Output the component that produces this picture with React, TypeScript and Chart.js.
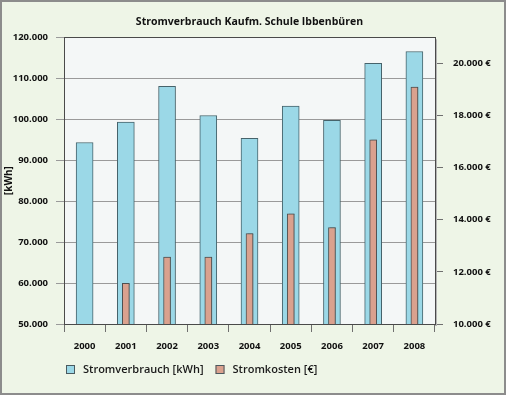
import React, { useEffect, useRef } from 'react';
import { Chart, registerables } from 'chart.js';

Chart.register(...registerables);

const years = ['2000', '2001', '2002', '2003', '2004', '2005', '2006', '2007', '2008'];
const consumptionKWh = [94300, 99300, 108000, 100900, 95300, 103200, 99700, 113600, 116500];
const costsEUR: (number | null)[] = [null, 11560, 12570, 12570, 13470, 14230, 13700, 17060, 19090];
const costTicks = [10000, 12000, 14000, 16000, 18000, 20000];

const titleText = 'Stromverbrauch Kaufm. Schule Ibbenbüren';
const consumptionLabel = 'Stromverbrauch [kWh]';
const costLabel = 'Stromkosten [€]';
const yAxisTitle = '[kWh]';

const FONT = '"Open Sans", "Noto Sans", sans-serif';
const BLUE = '#9bd8e7';
const ORANGE = '#daa18e';
const BAR_BORDER = '#46636b';

const fmt = (v: number) => String(Math.round(v)).replace(/\B(?=(\d{3})+(?!\d))/g, '.');

const bgPlugin = {
  id: 'bgPlugin',
  beforeDraw(chart: any) {
    const { ctx, width, height, chartArea } = chart;
    ctx.save();
    ctx.fillStyle = '#eef5e7';
    ctx.fillRect(0, 0, width, height);
    ctx.strokeStyle = '#8c8c8c';
    ctx.lineWidth = 2;
    ctx.strokeRect(1, 1, width - 2, height - 2);
    ctx.fillStyle = '#f4f7f7';
    ctx.fillRect(chartArea.left, chartArea.top, chartArea.right - chartArea.left, chartArea.bottom - chartArea.top);
    ctx.restore();
  },
  beforeDatasetsDraw(chart: any) {
    const { ctx, chartArea } = chart;
    ctx.save();
    ctx.strokeStyle = '#b4b4b4';
    ctx.lineWidth = 2;
    ctx.beginPath();
    ctx.moveTo(chartArea.right + 1, chartArea.top + 2);
    ctx.lineTo(chartArea.right + 1, chartArea.bottom + 2);
    ctx.stroke();
    ctx.strokeStyle = '#4a4a4a';
    ctx.lineWidth = 1;
    ctx.strokeRect(Math.round(chartArea.left) + 0.5, Math.round(chartArea.top) + 0.5,
      Math.round(chartArea.right - chartArea.left), Math.round(chartArea.bottom - chartArea.top));
    ctx.restore();
  },
  beforeDatasetDraw(chart: any, args: any) {
    const ctx = chart.ctx;
    ctx.save();
    if (args.index === 1) {
      ctx.shadowColor = 'rgba(90,90,90,0.55)';
      ctx.shadowOffsetX = 2;
      ctx.shadowOffsetY = 0;
      ctx.shadowBlur = 0;
    }
  },
  afterDatasetDraw(chart: any) {
    chart.ctx.restore();
  },
  afterDraw(chart: any) {
    const { ctx, chartArea } = chart;
    ctx.save();
    ctx.font = `600 11px ${FONT}`;
    ctx.textBaseline = 'middle';
    let x = chartArea.left + 2;
    const y = 369.5;
    chart.data.datasets.forEach((ds: any) => {
      ctx.fillStyle = ds.backgroundColor;
      ctx.fillRect(x, y - 4.5, 9, 9);
      ctx.strokeStyle = '#4a5a60';
      ctx.lineWidth = 1;
      ctx.strokeRect(x + 0.5, y - 4.5 + 0.5, 8, 8);
      ctx.fillStyle = '#1a1a1a';
      ctx.fillText(ds.label, x + 17, y);
      x += 17 + ctx.measureText(ds.label).width + 12;
    });
    ctx.restore();
  },
};

export default function App() {
  const ref = useRef<HTMLCanvasElement | null>(null);
  useEffect(() => {
    document.body.style.margin = '0';
    if (!ref.current) return;
    const chart = new Chart(ref.current, {
      type: 'bar',
      data: {
        labels: years,
        datasets: [
          {
            label: consumptionLabel,
            data: consumptionKWh,
            yAxisID: 'y',
            backgroundColor: BLUE,
            borderColor: BAR_BORDER,
            borderWidth: 1,
            barThickness: 17,
            grouped: false,
            order: 1,
          },
          {
            label: costLabel,
            data: costsEUR,
            yAxisID: 'y1',
            backgroundColor: ORANGE,
            borderColor: '#4e5050',
            borderWidth: 1,
            barThickness: 7,
            grouped: false,
            order: 0,
          },
        ],
      } as any,
      options: {
        animation: false,
        responsive: false,
        devicePixelRatio: 1,
        layout: { padding: 0 },
        plugins: {
          legend: { display: false },
          tooltip: { enabled: false },
          title: {
            display: true,
            text: titleText,
            fullSize: false,
            color: '#111',
            font: { family: FONT, size: 10.5, weight: 'bold' },
            padding: { top: 16, bottom: 8.6 },
          },
        },
        scales: {
          x: {
            grid: { display: true, drawOnChartArea: false, drawTicks: true, tickLength: 8, color: '#6f6f6f', offset: true },
            border: { display: false },
            ticks: { color: '#111', font: { family: FONT, size: 9.5, weight: 'bold' }, padding: 9 },
            afterFit: (s: any) => { s.height = 71; },
          },
          y: {
            position: 'left',
            min: 50000,
            max: 120000,
            grid: { color: '#9a9a9a', tickLength: 8, drawTicks: true },
            border: { display: false },
            ticks: {
              stepSize: 10000,
              padding: 8,
              color: '#111',
              font: { family: FONT, size: 9.5, weight: 'bold' },
              callback: (v: any) => fmt(Number(v)),
            },
            title: {
              display: true,
              text: yAxisTitle,
              color: '#111',
              font: { family: FONT, size: 10, weight: 'bold' },
              padding: { top: 3, bottom: 0 },
            },
            afterFit: (s: any) => { s.width = 64; },
          },
          y1: {
            position: 'right',
            min: 10000,
            max: 21000,
            afterBuildTicks: (s: any) => { s.ticks = costTicks.map((v) => ({ value: v })); },
            grid: { drawOnChartArea: false, tickLength: 8, color: '#6f6f6f' },
            border: { display: false },
            ticks: {
              padding: 10,
              color: '#111',
              font: { family: FONT, size: 9.5, weight: 'bold' },
              callback: (v: any) => `${fmt(Number(v))} €`,
            },
            afterFit: (s: any) => { s.width = 71; },
          },
        },
      } as any,
      plugins: [bgPlugin],
    });
    return () => chart.destroy();
  }, []);
  return <canvas ref={ref} width={506} height={395} style={{ display: 'block' }} />;
}
